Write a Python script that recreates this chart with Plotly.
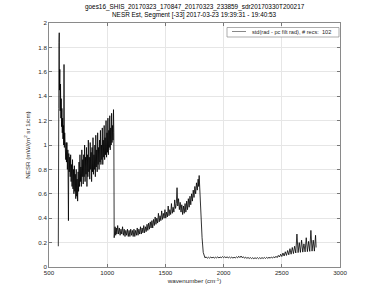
import plotly.graph_objects as go

# ---- data (wavenumber, NESR) ----
wn_band1 = [580, 582, 584, 586, 588, 590, 593, 596, 599, 602, 605, 608, 611, 614, 617, 620, 623, 626, 629, 632,
            635, 638, 641, 644, 647,
            650, 654, 658, 662, 667, 670, 674, 678, 682, 686, 690, 694, 698, 702, 706, 710, 714, 718, 722, 726,
            730, 734, 738, 742, 746, 750, 754, 758, 762, 766, 770, 774, 778, 782, 786, 790, 794, 798, 802, 806,
            810, 814, 818, 822, 826, 830, 834, 838, 842, 846, 850, 854, 858, 862, 866, 870, 874, 878, 882, 886,
            890, 894, 898, 902, 906, 910, 914, 918, 922, 926, 930, 934, 938, 942, 946, 950, 954, 958, 962, 966,
            970, 974, 978, 982, 986, 990, 994, 998, 1002, 1006, 1010, 1014, 1018, 1022, 1026, 1030, 1034, 1038, 1042, 1046,
            1050, 1054, 1057, 1060]
nesr_band1 = [0.17, 0.40, 1.30, 1.84, 1.92, 1.45, 1.62, 1.28, 1.50, 1.22, 1.38, 1.15, 1.30, 1.10, 1.22, 1.05, 1.16, 1.00, 1.66, 0.98,
              1.10, 0.92, 1.06, 0.88, 1.02,
              0.86, 1.02, 0.80, 0.96, 0.38, 0.93, 0.78, 0.90, 0.74, 0.92, 0.70, 0.84, 0.66, 0.88, 0.64, 0.80, 0.60, 0.83, 0.62, 0.76,
              0.56, 0.80, 0.58, 0.72, 0.54, 0.78, 0.62, 0.86, 0.66, 0.92, 0.70, 0.82, 0.66, 0.96, 0.74, 0.88, 0.68, 0.92, 0.74, 1.00,
              0.70, 0.90, 0.76, 0.98, 0.66, 0.92, 0.74, 1.04, 0.78, 0.90, 0.72, 1.02, 0.80, 0.94, 0.70, 0.98, 0.78, 1.06, 0.76, 0.92,
              0.80, 1.00, 0.74, 1.08, 0.82, 0.96, 0.78, 1.10, 0.84, 0.98, 0.80, 1.04, 0.86, 1.12, 0.84, 1.00, 0.88, 1.14, 0.84, 1.04,
              0.90, 1.16, 0.88, 1.06, 0.92, 1.20, 0.90, 1.10, 0.94, 1.22, 0.92, 1.12, 0.98, 1.24, 0.96, 1.14, 1.00, 1.26, 1.02, 1.16,
              1.04, 1.29, 1.10, 0.24]

wn_band2 = [1063, 1068, 1073, 1078, 1083, 1090, 1097, 1104, 1111, 1118, 1125, 1132, 1139, 1146, 1153, 1160, 1167, 1174, 1181, 1188,
            1195, 1202, 1209, 1216, 1223, 1230, 1237, 1244, 1251, 1258, 1265, 1272, 1279, 1286, 1293, 1300, 1307, 1314, 1321, 1328,
            1335, 1342, 1349, 1356, 1363, 1370, 1377, 1384, 1391, 1398, 1405, 1412, 1419, 1426, 1433, 1440, 1447, 1454, 1461, 1468,
            1475, 1482, 1489, 1496, 1503, 1510, 1517, 1524, 1531, 1538, 1545, 1552, 1559, 1566, 1573, 1580, 1587, 1594, 1600, 1606,
            1613, 1620, 1627, 1634, 1641, 1648, 1655, 1662, 1669, 1676, 1683, 1690, 1697, 1704, 1711, 1718, 1725, 1732, 1739, 1746,
            1753, 1760, 1767, 1774, 1781, 1786, 1790, 1795, 1805, 1815, 1825, 1832]
nesr_band2 = [0.28, 0.33, 0.26, 0.32, 0.27, 0.34, 0.27, 0.32, 0.26, 0.31, 0.27, 0.33, 0.26, 0.31, 0.25, 0.30, 0.26, 0.31, 0.25, 0.30,
              0.25, 0.31, 0.26, 0.30, 0.25, 0.31, 0.25, 0.30, 0.26, 0.32, 0.26, 0.31, 0.27, 0.33, 0.27, 0.32, 0.28, 0.34, 0.28, 0.33,
              0.29, 0.35, 0.30, 0.36, 0.31, 0.37, 0.32, 0.38, 0.32, 0.39, 0.34, 0.41, 0.35, 0.40, 0.36, 0.44, 0.37, 0.42, 0.38, 0.46,
              0.39, 0.44, 0.40, 0.47, 0.40, 0.45, 0.41, 0.50, 0.42, 0.47, 0.43, 0.52, 0.44, 0.49, 0.45, 0.55, 0.48, 0.52, 0.65, 0.50,
              0.56, 0.47, 0.53, 0.45, 0.51, 0.43, 0.50, 0.44, 0.52, 0.45, 0.54, 0.47, 0.56, 0.49, 0.58, 0.51, 0.60, 0.54, 0.63, 0.57,
              0.66, 0.60, 0.69, 0.63, 0.72, 0.66, 0.75, 0.62, 0.42, 0.24, 0.12, 0.085]

wn_band3 = [1840, 1850, 1860, 1870, 1880, 1890, 1900, 1910, 1920, 1930, 1940, 1950, 1960, 1970, 1980, 1990, 2000, 2010, 2020, 2030,
            2040, 2050, 2060, 2070, 2080, 2090, 2100, 2110, 2120, 2130, 2140, 2150, 2160, 2170, 2180, 2190, 2200, 2210, 2220, 2230,
            2240, 2250, 2260, 2270, 2280, 2290, 2300, 2310, 2320, 2330, 2340, 2350, 2360, 2370, 2380, 2390, 2400, 2410, 2420, 2430,
            2440, 2450, 2460, 2470, 2480, 2490, 2500, 2510, 2520, 2530, 2540, 2550, 2560, 2570, 2580, 2590, 2600, 2610, 2620, 2630,
            2640, 2650, 2660, 2670, 2680, 2690, 2700, 2710, 2720, 2730, 2740, 2750, 2760, 2770, 2780, 2790, 2795]
nesr_band3 = [0.075, 0.083, 0.072, 0.080, 0.073, 0.082, 0.074, 0.081, 0.073, 0.080, 0.075, 0.083, 0.074, 0.082, 0.076, 0.085, 0.077, 0.084, 0.076, 0.083,
              0.075, 0.082, 0.074, 0.081, 0.073, 0.080, 0.074, 0.083, 0.075, 0.088, 0.077, 0.090, 0.076, 0.084, 0.072, 0.080, 0.071, 0.078, 0.070, 0.077,
              0.069, 0.076, 0.068, 0.076, 0.069, 0.077, 0.068, 0.076, 0.069, 0.077, 0.070, 0.078, 0.070, 0.079, 0.071, 0.080, 0.072, 0.082, 0.073, 0.084,
              0.075, 0.088, 0.077, 0.095, 0.082, 0.105, 0.086, 0.115, 0.090, 0.125, 0.095, 0.135, 0.100, 0.150, 0.105, 0.160, 0.110, 0.170, 0.115, 0.270,
              0.118, 0.200, 0.120, 0.220, 0.122, 0.190, 0.124, 0.240, 0.126, 0.210, 0.128, 0.300, 0.130, 0.220, 0.130, 0.260, 0.160]

wavenumber = wn_band1 + wn_band2 + wn_band3
nesr = nesr_band1 + nesr_band2 + nesr_band3

x_ticks = [500, 1000, 1500, 2000, 2500, 3000]
y_ticks = [0, 0.2, 0.4, 0.6, 0.8, 1, 1.2, 1.4, 1.6, 1.8, 2]
y_ticklabels = ["0", "0.2", "0.4", "0.6", "0.8", "1", "1.2", "1.4", "1.6", "1.8", "2"]

title_line1 = "goes16_SHIS_20170323_170847_20170323_233859_sdr20170330T200217"
title_line2 = "NESR Est, Segment [-33] 2017-03-23 19:39:31 - 19:40:53"
legend_label = "std(rad - pc filt rad), # recs:  102"

FONT = "Liberation Sans, Arial, sans-serif"
AXC = "#262626"
W, H = 375, 301
ML, MR, MT, MB = 49, 35, 23, 34
PW, PH = W - ML - MR, H - MT - MB


def px_x(px):
    return (px - ML) / PW


def px_y(py):
    return (H - MB - py) / PH


fig = go.Figure()
fig.add_trace(go.Scatter(
    x=wavenumber, y=nesr, mode="lines", name=legend_label,
    line=dict(color="black", width=0.8), showlegend=False,
))

# title lines
fig.add_annotation(text=title_line1, xref="paper", yref="paper", x=0.5, y=px_y(7),
                   xanchor="center", yanchor="middle", showarrow=False,
                   font=dict(size=6.4, color="black", family=FONT))
fig.add_annotation(text=title_line2, xref="paper", yref="paper", x=0.5, y=px_y(15.5),
                   xanchor="center", yanchor="middle", showarrow=False,
                   font=dict(size=6.4, color="black", family=FONT))

# MATLAB-style legend box
fig.add_shape(type="rect", xref="paper", yref="paper", x0=px_x(227), x1=px_x(339),
              y0=px_y(37), y1=px_y(27.5), line=dict(color="#8a8a8a", width=0.7), fillcolor="white", layer="above")
fig.add_shape(type="line", xref="paper", yref="paper", x0=px_x(232), x1=px_x(246),
              y0=px_y(31.5), y1=px_y(31.5), line=dict(color="#555555", width=0.7), layer="above")
fig.add_annotation(text=legend_label, xref="paper", yref="paper", x=px_x(249.5), y=px_y(32),
                   xanchor="left", yanchor="middle", showarrow=False,
                   font=dict(size=5.6, color="#262626", family=FONT))

fig.update_layout(
    width=W, height=H,
    margin=dict(l=ML, r=MR, t=MT, b=MB),
    paper_bgcolor="white", plot_bgcolor="white",
    font=dict(family=FONT, size=6, color=AXC),
    showlegend=False,
)

fig.update_xaxes(
    range=[500, 3000], tickvals=x_ticks, ticks="inside", ticklen=3, tickcolor="#777777",
    showline=True, linecolor="#8a8a8a", linewidth=0.7, mirror="ticks",
    showgrid=True, gridcolor="#e6e6e6", gridwidth=0.6, zeroline=False,
    title=dict(text="wavenumber (cm<sup>-1</sup>)", standoff=3, font=dict(size=6.2, color=AXC)),
    tickfont=dict(size=6.2, color=AXC),
)
fig.update_yaxes(
    range=[0, 2], tickvals=y_ticks, ticktext=y_ticklabels, ticks="inside", ticklen=3, tickcolor="#777777",
    showline=True, linecolor="#8a8a8a", linewidth=0.7, mirror="ticks",
    showgrid=True, gridcolor="#e6e6e6", gridwidth=0.6, zeroline=False,
    title=dict(text="NESR (mW/(m<sup>2</sup> sr 1/cm)", standoff=7, font=dict(size=6.2, color=AXC)),
    tickfont=dict(size=6.2, color=AXC),
)

fig.write_html("out.html")
